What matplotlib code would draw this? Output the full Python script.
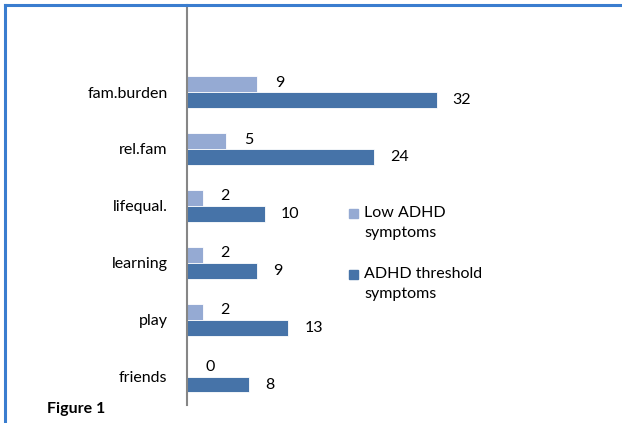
import matplotlib.pyplot as plt
import numpy as np
from matplotlib.lines import Line2D
from matplotlib.patches import Rectangle

categories = ['fam.burden', 'rel.fam', 'lifequal.', 'learning', 'play', 'friends']
low_adhd = [9, 5, 2, 2, 2, 0]
adhd_threshold = [32, 24, 10, 9, 13, 8]
series_names = ['Low ADHD\nsymptoms', 'ADHD threshold\nsymptoms']

light = '#95AAD3'
dark = '#4673A8'
font = 'Lato'
fs = 11.5

W, H = 622, 423
fig = plt.figure(figsize=(W / 100, H / 100), dpi=100)
ax = fig.add_axes([187 / W, (H - 405) / H, 430 / W, 400 / H])

y = np.arange(len(categories))
bh = 0.28
ax.barh(y - bh / 2, low_adhd, height=bh, color=light, edgecolor='white', linewidth=0.6)
ax.barh(y + bh / 2, adhd_threshold, height=bh, color=dark, edgecolor='white', linewidth=0.6)

for i in range(len(categories)):
    ax.annotate(str(low_adhd[i]), (low_adhd[i], y[i] - bh / 2), xytext=(13, 1),
                textcoords='offset points', ha='left', va='center', fontsize=fs, family=font)
    ax.annotate(str(adhd_threshold[i]), (adhd_threshold[i], y[i] + bh / 2), xytext=(11.5, 0),
                textcoords='offset points', ha='left', va='center', fontsize=fs, family=font)

ax.set_xlim(0, 430 / 7.8)
ax.set_ylim(len(categories) - 0.5, -1.53)
ax.set_yticks(y)
ax.set_yticklabels(categories, fontsize=fs, family=font)
ax.tick_params(axis='y', length=0, pad=14)
ax.set_xticks([])
for s in ['top', 'right', 'bottom']:
    ax.spines[s].set_visible(False)
ax.spines['left'].set_color('#868686')
ax.spines['left'].set_linewidth(1.5)

# legend drawn by hand so the square sits beside the first line of each label
for name, col, top in zip(series_names, [light, dark], [209, 270]):
    fig.add_artist(Rectangle((349 / W, 1 - (top + 9) / H), 9 / W, 9 / H,
                             transform=fig.transFigure, color=col))
    fig.text(364 / W, 1 - (top - 3) / H, name, fontsize=fs, family=font,
             va='top', ha='left', linespacing=1.55)

fig.text(47 / W, 1 - 409 / H, 'Figure 1', fontsize=fs, fontweight='bold', family=font,
         va='center', ha='left')

fig.add_artist(Line2D([5 / W, 1], [1 - 5 / H, 1 - 5 / H], color='#3A7DCF', lw=2.2))
fig.add_artist(Line2D([5 / W, 5 / W], [0, 1 - 5 / H], color='#3A7DCF', lw=2.2))

fig.savefig('out.png', dpi=100)
